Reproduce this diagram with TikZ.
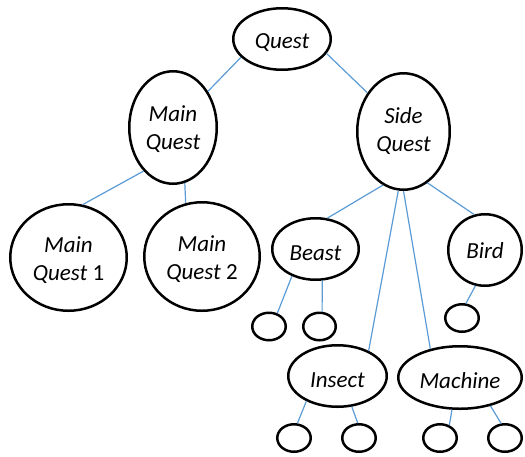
\documentclass[tikz,border=0pt]{standalone}
\usepackage{fontspec}
\setmainfont{Carlito}
\usetikzlibrary{shapes.geometric}
\definecolor{linkblue}{RGB}{91,155,213}
\tikzset{
  ell/.style={ellipse, draw=black, line width=2.5pt, inner sep=0pt},
  tiny/.style={ell, minimum width=33.5pt, minimum height=27.5pt},
  conn/.style={draw=linkblue, line width=1.2pt},
  every label/.style={font=\fontsize{23}{28}\selectfont\itshape, align=center, inner sep=0pt}
}
\begin{document}
\begin{tikzpicture}[x=1pt,y=-1pt]
\useasboundingbox (0,0) rectangle (525,456);
\node[ell, minimum width=97.5pt, minimum height=61.5pt, label={[yshift=-4pt]center:Quest}] (quest) at (282,39) {};
\node[ell, minimum width=87.5pt, minimum height=112.5pt, label={[yshift=-2pt]center:Main\\Quest}] (mq) at (173,127.5) {};
\node[ell, minimum width=92.5pt, minimum height=116.5pt, label={[yshift=0pt]center:Side\\Quest}] (sq) at (403.5,131.5) {};
\node[ell, minimum width=116.5pt, minimum height=106.5pt, label={[yshift=-3pt]center:Main\\Quest \textup{1}}] (mq1) at (68.5,257.5) {};
\node[ell, minimum width=115.5pt, minimum height=108.5pt, label={[yshift=-3pt]center:Main\\Quest \textup{2}}] (mq2) at (202,256.5) {};
\node[ell, minimum width=86.5pt, minimum height=61.5pt, label={[yshift=-4.5pt]center:Beast}] (beast) at (315.5,249) {};
\node[ell, minimum width=73.5pt, minimum height=71.5pt, label={[yshift=-1pt]center:Bird}] (bird) at (485,250) {};
\node[ell, minimum width=98.5pt, minimum height=61.5pt, label={[yshift=-4pt]center:Insect}] (insect) at (337.5,376) {};
\node[ell, minimum width=123.5pt, minimum height=62.5pt, label={[yshift=-3.5pt]center:Machine}] (machine) at (460,377.5) {};
\node[tiny] (b1) at (269,326.5) {};
\node[tiny, minimum width=32.5pt] (b2) at (319.5,326.5) {};
\node[tiny] (bd1) at (462,318) {};
\node[tiny] (i1) at (294,438) {};
\node[tiny] (i2) at (359,438) {};
\node[tiny] (m1) at (440,438) {};
\node[tiny] (m2) at (505,438) {};
\draw[conn] (quest.204) -- (mq.46);
\draw[conn] (quest.342) -- (sq.133.5);
\draw[conn] (mq.236) -- (mq1.75);
\draw[conn] (mq.282) -- (mq2.107);
\draw[conn] (sq.249) -- (beast.69);
\draw[conn] (sq.265) -- (insect.39);
\draw[conn] (sq.270) -- (machine.136);
\draw[conn] (sq.295) -- (bird.107);
\draw[conn] (beast.229) -- (b1.58);
\draw[conn] (beast.282) -- (b2.80);
\draw[conn] (bird.255) -- (bd1.75);
\draw[conn] (insect.219.5) -- (i1.77);
\draw[conn] (insect.295) -- (i2.95);
\draw[conn] (machine.256.5) -- (m1.54);
\draw[conn] (machine.317) -- (m2.105);
\end{tikzpicture}
\end{document}
